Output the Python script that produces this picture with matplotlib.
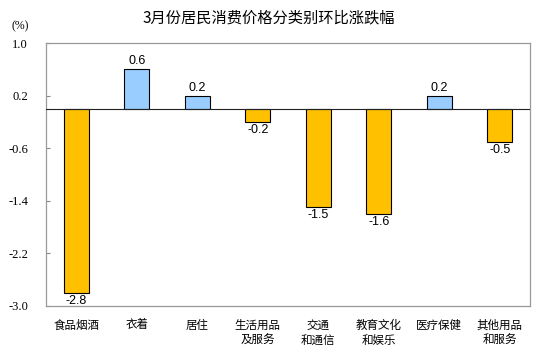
import matplotlib
matplotlib.use("Agg")
import matplotlib.pyplot as plt

categories = ["食品烟酒", "衣着", "居住", "生活用品\n及服务", "交通\n和通信",
              "教育文化\n和娱乐", "医疗保健", "其他用品\n和服务"]
values = [-2.8, 0.6, 0.2, -0.2, -1.5, -1.6, 0.2, -0.5]
yticks = [1.0, 0.2, -0.6, -1.4, -2.2, -3.0]

CJK = ["Noto Sans CJK SC", "DejaVu Sans"]
plt.rcParams["font.family"] = CJK

fig = plt.figure(figsize=(5.37, 3.62), dpi=100)
ax = fig.add_axes([0.0857, 0.1547, 0.9013, 0.7263])

colors = ["#99CCFF" if v > 0 else "#FFC000" for v in values]
x = list(range(len(values)))
ax.bar(x, values, width=0.42, color=colors, edgecolor="black", linewidth=0.8, zorder=3)
ax.axhline(0, color="#222222", lw=0.8, zorder=4)

for xi, v in zip(x, values):
    off = 0.03 if v > 0 else -0.03
    ax.text(xi, v + off, f"{v:.1f}", ha="center", va="bottom" if v > 0 else "top",
            fontsize=9, family="Liberation Sans")

ax.set_xlim(-0.5, len(values) - 0.5)
ax.set_ylim(-3.0, 1.0)
ax.set_yticks(yticks)
ax.set_yticklabels([f"{t:.1f}" for t in yticks], family="Liberation Serif", fontsize=9)
ax.set_xticks(x)
ax.set_xticklabels(categories, fontsize=8.3, linespacing=1.25, va="top")
ax.tick_params(axis="x", length=0, pad=9)
ax.tick_params(axis="y", direction="in", length=3, pad=13, color="#888888")
for s in ax.spines.values():
    s.set_color("#999999")
    s.set_linewidth(0.9)

fig.text(0.5, 0.952, "3月份居民消费价格分类别环比涨跌幅", ha="center", va="center", fontsize=11)
fig.text(0.037, 0.928, "(%)", ha="center", va="center", fontsize=8.5, family="Liberation Serif")

fig.savefig("out.png", dpi=100)
